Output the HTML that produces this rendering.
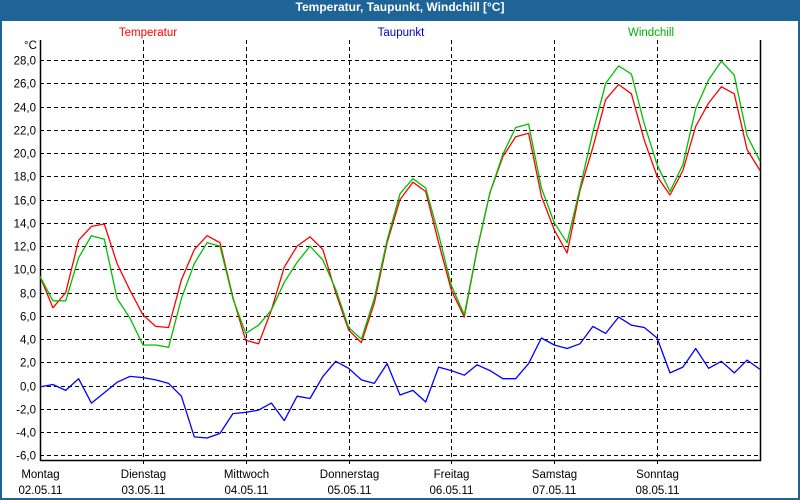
<!DOCTYPE html>
<html><head><meta charset="utf-8"><style>
html,body{margin:0;padding:0;background:#fff}
#wrap{position:relative;width:800px;height:500px;background:#1e6496;overflow:hidden}
#title{position:absolute;left:0;top:0;width:800px;height:21px;line-height:21px;text-align:center;color:#fff;font:bold 12px "Liberation Sans",sans-serif}
#inner{position:absolute;left:2px;top:21px;width:796px;height:477px;background:#fff}
svg text{font-family:"Liberation Sans",sans-serif;font-size:11.5px}
</style></head><body>
<div id="wrap">
<div id="title">Temperatur, Taupunkt, Windchill [°C]</div>
<div id="inner"></div>
<svg id="chart" width="800" height="500" style="position:absolute;left:0;top:0"></svg>
</div>
<script>
const dayNames=["Montag","Dienstag","Mittwoch","Donnerstag","Freitag","Samstag","Sonntag"];
const dayDates=["02.05.11","03.05.11","04.05.11","05.05.11","06.05.11","07.05.11","08.05.11"];
const yTicks=[28,26,24,22,20,18,16,14,12,10,8,6,4,2,0,-2,-4,-6];
const temperatur=[9.4,6.7,8.0,12.5,13.7,13.9,10.5,8.2,6.1,5.1,5.0,9.1,11.7,12.9,12.3,7.6,3.9,3.6,6.5,10.2,12.0,12.8,11.7,8.0,4.8,3.7,7.1,12.3,16.0,17.5,16.7,12.3,8.2,5.9,11.7,16.6,19.7,21.4,21.7,16.3,13.4,11.4,16.8,20.5,24.6,25.9,25.1,21.1,18.0,16.4,18.5,22.3,24.3,25.7,25.1,20.3,18.5];
const windchill=[9.4,7.3,7.3,11.0,12.9,12.6,7.5,5.8,3.5,3.5,3.3,7.5,10.5,12.3,12.0,7.5,4.5,5.2,6.5,8.9,10.6,12.0,10.8,8.3,5.0,4.0,7.5,12.5,16.5,17.8,17.0,13.0,8.6,6.1,11.7,16.6,19.9,22.2,22.5,17.0,14.0,12.3,17.0,21.8,26.0,27.5,26.8,22.5,19.0,16.7,19.0,23.8,26.3,27.9,26.7,21.5,19.3];
const taupunkt=[-0.1,0.1,-0.4,0.6,-1.5,-0.6,0.3,0.8,0.7,0.5,0.2,-0.9,-4.4,-4.5,-4.1,-2.4,-2.3,-2.1,-1.5,-3.0,-0.9,-1.1,0.8,2.1,1.5,0.5,0.2,1.9,-0.8,-0.4,-1.4,1.6,1.3,0.9,1.8,1.3,0.6,0.6,1.9,4.1,3.5,3.2,3.6,5.1,4.5,5.9,5.2,5.0,4.1,1.1,1.6,3.2,1.5,2.1,1.1,2.2,1.4];
const pointsPerDay=8;
const L=40,R=760,T=40,B=460;
const y0=385.7, pxPerUnit=11.63;
const dayW=(R-L)/7;
function xPos(i){return L+i*dayW/pointsPerDay;}
function yPos(v){return y0-v*pxPerUnit;}
const NS="http://www.w3.org/2000/svg";
const svg=document.getElementById('chart');
function mk(tag,attrs){const e=document.createElementNS(NS,tag);for(const k in attrs)e.setAttribute(k,attrs[k]);svg.appendChild(e);return e;}
// grid
yTicks.forEach(v=>{
  const y=Math.round(yPos(v))+0.5;
  const g=mk('line',{x1:L,x2:R,y1:y,y2:y,stroke:'#000','stroke-dasharray':'4,3','stroke-width':1});
  
  
  const t=mk('text',{x:36,y:y+4,'text-anchor':'end',fill:'#000'});
  t.textContent=v.toFixed(1).replace('.',',');
  
  
});
dayNames.forEach((d,i)=>{
  const x=Math.round(L+i*dayW)+0.5;
  if(i>0){
    const g=mk('line',{x1:x,x2:x,y1:T,y2:B+4,stroke:'#000','stroke-dasharray':'4,3','stroke-width':1});
    
    
  }
  const t=mk('text',{x:x,y:478,'text-anchor':'middle',fill:'#000'});
  t.textContent=d;
  
  
  const t2=mk('text',{x:x,y:494,'text-anchor':'middle',fill:'#000'});
  t2.textContent=dayDates[i];
  
  
});
const ax=mk('path',{d:`M${L+0.5},${T} V${B+0.5} H${R+0.5} V${T}`,fill:'none',stroke:'#000','stroke-width':1.5});


const unit=mk('text',{x:24,y:49,fill:'#000'});
unit.textContent='°C';


function series(arr,color,name){
  const p=mk('polyline',{points:arr.map((v,i)=>xPos(i).toFixed(1)+','+yPos(v).toFixed(1)).join(' '),fill:'none',stroke:color,'stroke-width':1.3,'stroke-linejoin':'round'});
  
  
}
series(taupunkt,'#0000ff','taupunkt-line');
series(temperatur,'#ff0000','temperatur-line');
series(windchill,'#00c000','windchill-line');
[['Temperatur','#ff0000',148],['Taupunkt','#0000c0',401],['Windchill','#00b000',651]].forEach(([n,c,x])=>{
  const t=mk('text',{x:x,y:36,'text-anchor':'middle',fill:c});
  t.textContent=n;
  
  
});
</script>
</body></html>
